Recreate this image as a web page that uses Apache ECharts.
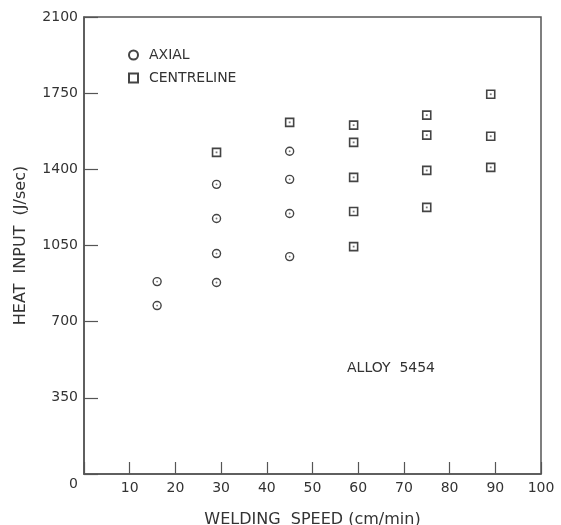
<!DOCTYPE html>
<html><head><meta charset="utf-8">
<script src="https://cdn.jsdelivr.net/npm/echarts@6/dist/echarts.min.js"></script>
<style>html,body{margin:0;padding:0;background:#fff}#c{width:561px;height:525px}</style>
</head><body><div id="c"></div>
<script>
var axialX = [16, 16, 29, 29, 29, 29, 45, 45, 45, 45];
var axialY = [884, 774, 880, 1013, 1174, 1331, 999, 1197, 1354, 1483];
var centX = [29, 45, 59, 59, 59, 59, 59, 75, 75, 75, 75, 89, 89, 89];
var centY = [1478, 1616, 1603, 1524, 1363, 1206, 1045, 1649, 1557, 1395, 1225, 1745, 1552, 1409];
var xTicks = [0, 10, 20, 30, 40, 50, 60, 70, 80, 90, 100];
var yTicks = [0, 350, 700, 1050, 1400, 1750, 2100];
var seriesNames = ['AXIAL', 'CENTRELINE'];
var annotation = 'ALLOY  5454';

function pairs(xs, ys) { return xs.map(function (x, i) { return [x, ys[i]]; }); }
var ink = '#444';
var font = 'DejaVu Sans';
var chart = echarts.init(document.getElementById('c'));
chart.setOption({
  animation: false,
  backgroundColor: '#fff',
  textStyle: { fontFamily: font },
  grid: { left: 84, right: 20, top: 17, bottom: 51, containLabel: false, outerBoundsMode: 'none',
    show: true, borderColor: '#555', borderWidth: 1.5, backgroundColor: 'transparent' },
  legend: {
    data: seriesNames, orient: 'vertical', left: 123, top: 43, itemWidth: 9, itemHeight: 9, itemGap: 9,
    textStyle: { fontFamily: font, fontSize: 14, color: '#333', padding: [0, 0, 0, 6] }
  },
  xAxis: {
    type: 'value', min: xTicks[0], max: xTicks[xTicks.length - 1], interval: 10,
    name: 'WELDING  SPEED (cm/min)', nameLocation: 'middle', nameGap: 38,
    nameTextStyle: { fontFamily: font, fontSize: 16, color: '#333' },
    axisLine: { lineStyle: { color: '#555', width: 1.5 } },
    axisTick: { inside: true, length: 12, lineStyle: { color: '#555', width: 1.2 } },
    axisLabel: { fontFamily: font, fontSize: 14, color: '#333', margin: 7,
      formatter: function (v) { return v === 0 ? '' : String(v); } },
    splitLine: { show: false }
  },
  yAxis: {
    type: 'value', min: yTicks[0], max: yTicks[yTicks.length - 1], interval: 350,
    name: 'HEAT  INPUT  (J/sec)', nameLocation: 'middle', nameGap: 55, nameRotate: 90,
    nameTextStyle: { fontFamily: font, fontSize: 16, color: '#333' },
    axisLine: { lineStyle: { color: '#555', width: 1.5 } },
    axisTick: { inside: true, length: 14, lineStyle: { color: '#555', width: 1.2 } },
    axisLabel: { fontFamily: font, fontSize: 14, color: '#333', margin: 6,
      formatter: function (v) { return v === 0 ? '{z|0}' : String(v); },
      rich: { z: { fontFamily: font, fontSize: 14, color: '#333', padding: [20, 0, 0, 0] } } },
    splitLine: { show: false }
  },
  graphic: [{ type: 'text', left: 347, top: 361, style: { text: annotation, font: '14px "DejaVu Sans"', fill: '#333' } }],
  series: [
    { name: seriesNames[0], type: 'scatter', symbol: 'circle', symbolSize: 8, data: pairs(axialX, axialY),
      itemStyle: { color: '#fff', borderColor: ink, borderWidth: 1.4, opacity: 1 } },
    { name: seriesNames[1], type: 'scatter', symbol: 'rect', symbolSize: 8, data: pairs(centX, centY),
      itemStyle: { color: '#fff', borderColor: ink, borderWidth: 1.6, opacity: 1 } },
    { name: 'axial-dot', type: 'scatter', symbol: 'circle', symbolSize: 1.8, silent: true, data: pairs(axialX, axialY), itemStyle: { color: '#555' } },
    { name: 'cent-dot', type: 'scatter', symbol: 'rect', symbolSize: 1.8, silent: true, data: pairs(centX, centY), itemStyle: { color: '#555' } }
  ]
});
</script></body></html>
